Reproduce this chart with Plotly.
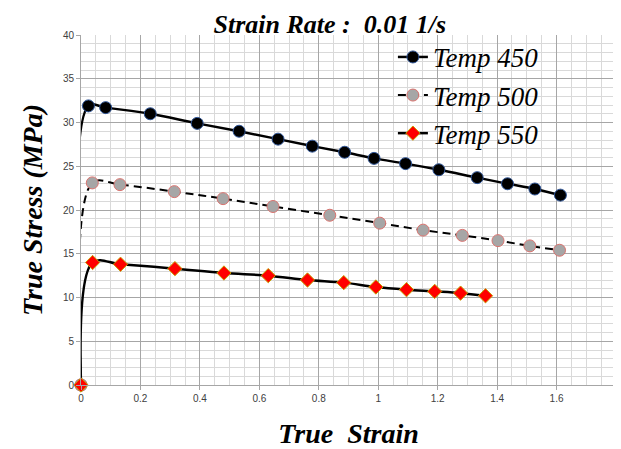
import plotly.graph_objects as go

# Data
x450 = [0, 0.025, 0.083, 0.233, 0.391, 0.532, 0.663, 0.778, 0.887, 0.986, 1.092, 1.204, 1.333, 1.435, 1.527, 1.613]
y450 = [0, 31.9, 31.7, 31.0, 29.9, 29.0, 28.1, 27.3, 26.6, 25.9, 25.3, 24.6, 23.7, 23.0, 22.4, 21.7]

x500 = [0, 0.038, 0.131, 0.314, 0.478, 0.646, 0.837, 1.005, 1.151, 1.283, 1.403, 1.510, 1.610]
y500 = [0, 23.1, 22.9, 22.1, 21.3, 20.4, 19.4, 18.5, 17.7, 17.1, 16.5, 15.9, 15.4]

x550 = [0, 0.039, 0.133, 0.316, 0.481, 0.630, 0.762, 0.884, 0.992, 1.095, 1.190, 1.277, 1.361]
y550 = [0, 14.0, 13.8, 13.3, 12.8, 12.5, 12.0, 11.7, 11.2, 10.9, 10.7, 10.5, 10.2]

names = ["Temp 450", "Temp 500", "Temp 550"]
title_text = "Strain Rate :\u00a0 0.01 1/s"
xtitle = "True\u00a0 Strain"
ytitle = "True Stress (MPa)"

serif = "Liberation Serif"

fig = go.Figure()
fig.add_trace(go.Scatter(
    x=x450, y=y450, name=names[0], mode="lines+markers", cliponaxis=False,
    line=dict(color="black", width=2.5, shape="spline", smoothing=1.0),
    marker=dict(symbol="circle", size=12, color="black", line=dict(color="#2f5597", width=1)),
))
fig.add_trace(go.Scatter(
    x=x500, y=y500, name=names[1], mode="lines+markers", cliponaxis=False,
    line=dict(color="black", width=2, dash="8px,5px", shape="spline", smoothing=1.0),
    marker=dict(symbol="circle", size=12, color="#a6a6a6", line=dict(color="#d9736f", width=1)),
))
fig.add_trace(go.Scatter(
    x=x550, y=y550, name=names[2], mode="lines+markers", cliponaxis=False,
    line=dict(color="black", width=2.5, shape="spline", smoothing=1.0),
    marker=dict(symbol="diamond", size=11, color="#ff0000", line=dict(color="#c8a000", width=1)),
))

tickfont = dict(family="Liberation Sans", size=10, color="#404040")
bigfont = dict(family=serif, size=28, color="black", weight="bold", style="italic")
titlefont = dict(family=serif, size=26, color="black", weight="bold", style="italic")

fig.update_layout(
    width=613, height=441,
    margin=dict(l=73, r=5, t=27, b=64),
    paper_bgcolor="white", plot_bgcolor="white",
    title=dict(text=title_text, x=0.525, xanchor="center", y=1.0, yanchor="top",
               pad=dict(t=7, b=0, l=0, r=0), font=titlefont),
    legend=dict(x=0.583, y=1.006, xanchor="left", yanchor="top",
                bgcolor="rgba(0,0,0,0)", borderwidth=0,
                font=dict(family=serif, size=27, color="black", style="italic"),
                tracegroupgap=0),
    showlegend=True,
)
fig.update_xaxes(
    range=[0, 1.8], dtick=0.2, tick0=0, automargin=False,
    showgrid=True, gridcolor="#a6a6a6", gridwidth=1,
    minor=dict(dtick=0.05, showgrid=True, gridcolor="#d9d9d9", gridwidth=1),
    showline=True, linecolor="#a6a6a6", linewidth=1,
    ticks="outside", ticklen=4, tickcolor="#a6a6a6",
    tickfont=tickfont, zeroline=False,
    title=dict(text=xtitle, standoff=24, font=bigfont),
)
fig.update_yaxes(
    range=[0, 40], dtick=5, tick0=0, automargin=False,
    showgrid=True, gridcolor="#a6a6a6", gridwidth=1,
    minor=dict(dtick=1, showgrid=True, gridcolor="#d9d9d9", gridwidth=1),
    showline=True, linecolor="#a6a6a6", linewidth=1,
    ticks="outside", ticklen=4, tickcolor="#a6a6a6",
    tickfont=tickfont, zeroline=False,
    title=dict(text=ytitle, standoff=12, font=bigfont),
)

fig.write_html("out.html")
